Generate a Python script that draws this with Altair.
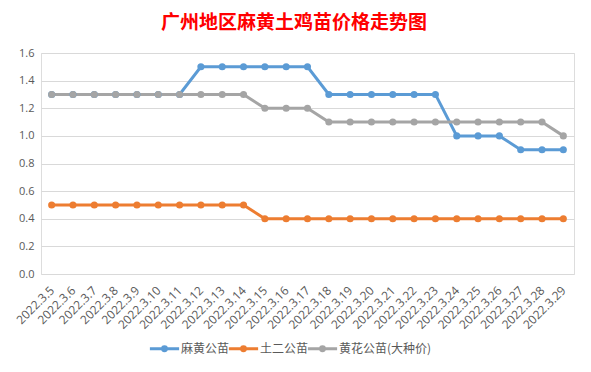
import altair as alt
import pandas as pd

dates = ["2022.3.5", "2022.3.6", "2022.3.7", "2022.3.8", "2022.3.9", "2022.3.10",
         "2022.3.11", "2022.3.12", "2022.3.13", "2022.3.14", "2022.3.15", "2022.3.16",
         "2022.3.17", "2022.3.18", "2022.3.19", "2022.3.20", "2022.3.21", "2022.3.22",
         "2022.3.23", "2022.3.24", "2022.3.25", "2022.3.26", "2022.3.27", "2022.3.28",
         "2022.3.29"]

mahuang = [1.3, 1.3, 1.3, 1.3, 1.3, 1.3, 1.3, 1.5, 1.5, 1.5, 1.5, 1.5, 1.5,
           1.3, 1.3, 1.3, 1.3, 1.3, 1.3, 1.0, 1.0, 1.0, 0.9, 0.9, 0.9]
tuer = [0.5, 0.5, 0.5, 0.5, 0.5, 0.5, 0.5, 0.5, 0.5, 0.5, 0.4, 0.4, 0.4,
        0.4, 0.4, 0.4, 0.4, 0.4, 0.4, 0.4, 0.4, 0.4, 0.4, 0.4, 0.4]
huanghua = [1.3, 1.3, 1.3, 1.3, 1.3, 1.3, 1.3, 1.3, 1.3, 1.3, 1.2, 1.2, 1.2,
            1.1, 1.1, 1.1, 1.1, 1.1, 1.1, 1.1, 1.1, 1.1, 1.1, 1.1, 1.0]

series_names = ["麻黄公苗", "土二公苗", "黄花公苗(大种价)"]
series_colors = ["#5B9BD5", "#ED7D31", "#A5A5A5"]
y_ticks = [0.0, 0.2, 0.4, 0.6, 0.8, 1.0, 1.2, 1.4, 1.6]

rows = []
for name, vals in zip(series_names, [mahuang, tuer, huanghua]):
    for d, v in zip(dates, vals):
        rows.append({"date": d, "price": v, "series": name})
df = pd.DataFrame(rows)

label_font = "Open Sans"
text_color = "#595959"

legend_symbol = "M-1.5,0L1.5,0M-0.2,0A0.2,0.2 0 1,0 0.2,0A0.2,0.2 0 1,0 -0.2,0"

color = alt.Color(
    "series:N",
    sort=series_names,
    scale=alt.Scale(domain=series_names, range=series_colors),
    legend=alt.Legend(
        title=None,
        orient="none",
        direction="horizontal",
        legendX=112,
        legendY=284,
        symbolType=legend_symbol,
        symbolSize=380,
        symbolStrokeWidth=3,
        labelFont="Noto Sans CJK SC",
        labelFontSize=12,
        labelColor=text_color,
        columnPadding=-8,
        labelOffset=5,
    ),
)

x = alt.X(
    "date:N",
    sort=dates,
    title=None,
    axis=alt.Axis(
        labelAngle=-45,
        labelAlign="right",
        labelBaseline="middle",
        labelPadding=14,
        labelFont=label_font,
        labelFontSize=12,
        labelColor=text_color,
        ticks=False,
        domain=False,
        grid=False,
        labelOverlap=False,
    ),
)
y = alt.Y(
    "price:Q",
    title=None,
    scale=alt.Scale(domain=[0, 1.6], nice=False),
    axis=alt.Axis(
        values=y_ticks,
        format=".1f",
        labelFont=label_font,
        labelFontSize=11,
        labelColor=text_color,
        labelPadding=7,
        ticks=False,
        domain=False,
        gridColor="#D9D9D9",
        gridWidth=1,
    ),
)

base = alt.Chart(df).encode(x=x, y=y, color=color, order=alt.Order("series:N"))
lines = base.mark_line(strokeWidth=3)
points = base.mark_point(filled=True, size=50, opacity=1)

chart = (
    alt.layer(lines, points)
    .properties(
        width=533,
        height=221,
        padding={"left": 5, "top": 6, "right": 5, "bottom": 3},
        title=alt.TitleParams(
            "广州地区麻黄土鸡苗价格走势图",
            font="Noto Sans CJK SC",
            fontSize=19,
            fontWeight="bold",
            color="#FF0000",
            anchor="middle",
            frame="bounds",
            offset=14,
        ),
    )
    .configure_view(stroke=None)
    .configure(background="white")
)

chart.save("out.html", embed_options={"renderer": "svg", "actions": False})
